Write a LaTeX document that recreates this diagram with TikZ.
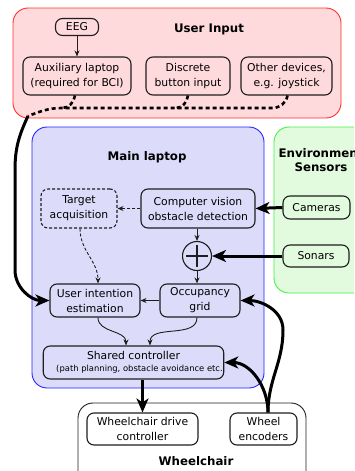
\documentclass[tikz,border=0pt]{standalone}
\usepackage{fontspec}
\setmainfont{DejaVu Sans}
\usetikzlibrary{arrows.meta}
\definecolor{redfill}{RGB}{255,218,221}
\definecolor{redline}{RGB}{255,45,45}
\definecolor{bluefill}{RGB}{220,220,250}
\definecolor{blueline}{RGB}{35,35,255}
\definecolor{greenfill}{RGB}{226,250,221}
\definecolor{greenline}{RGB}{70,240,70}
\definecolor{ink}{RGB}{30,30,30}
\tikzset{
  box/.style={draw=ink, line width=1.1pt, rounded corners=7pt, align=center, inner sep=1pt,
              font=\fontsize{10.8}{15}\selectfont},
  dbox/.style={box, dashed, dash pattern=on 3pt off 2pt},
  group/.style={line width=0.9pt, rounded corners=15pt},
  title/.style={font=\fontsize{11.8}{14.5}\selectfont\bfseries, align=center},
  thin/.style={line width=0.9pt, -{Stealth[length=6pt,width=5pt]}},
  fat/.style={line width=3pt, -{Stealth[length=14pt,width=12pt,inset=4pt]}},
  dotline/.style={line width=2.6pt, dash pattern=on 4pt off 3pt},
}
\begin{document}
\begin{tikzpicture}[x=1pt,y=-1pt]
\useasboundingbox (0,0) rectangle (354,471);
\begin{scope}
\clip (0,0) rectangle (354,471);
% groups
\draw[group, fill=redfill, draw=redline] (13,8) rectangle (341,118);
\draw[group, fill=bluefill, draw=blueline] (32,127) rectangle (264,388);
\draw[group, fill=greenfill, draw=greenline] (274,127) rectangle (375,293);
\draw[group, fill=white, draw=ink] (78,403) rectangle (306,495);
\node[title] (tenv) at (321,160) {Environment\\Sensors};
\end{scope}
% titles
\node[title] (tuser) at (209,29) {User Input};
\node[title] (tmain) at (147,157) {Main laptop};
\node[title] (twc) at (196,461) {Wheelchair};
% nodes
\node[box, minimum width=43pt, minimum height=17pt] (eeg) at (77,27) {EEG};
\node[box, minimum width=108pt, minimum height=38pt] (aux) at (77,76) {Auxiliary laptop\\(required for BCI)};
\node[box, minimum width=84pt, minimum height=38pt] (disc) at (188,76) {Discrete\\button input};
\node[box, minimum width=91pt, minimum height=38pt] (other) at (286.5,76) {Other devices,\\e.g. joystick};
\node[dbox, minimum width=76pt, minimum height=39pt] (target) at (79,208.5) {Target\\acquisition};
\node[box, minimum width=114pt, minimum height=39pt] (cv) at (198,208.5) {Computer vision\\obstacle detection};
\node[box, minimum width=67pt, minimum height=23pt] (cam) at (316.5,207.5) {Cameras};
\node[box, minimum width=66pt, minimum height=22pt] (sonar) at (316,256) {Sonars};
\node[draw=ink, line width=1.1pt, circle, minimum size=29pt, inner sep=0pt] (plus) at (197,256) {};
\draw[ink, line width=1.2pt] ([yshift=-4.5pt]plus.north) -- ([yshift=4.5pt]plus.south);
\draw[ink, line width=1.2pt] ([xshift=4.5pt]plus.west) -- ([xshift=-4.5pt]plus.east);
\node[box, minimum width=90pt, minimum height=33pt] (uie) at (95,300.5) {User intention\\estimation};
\node[box, minimum width=80pt, minimum height=33pt] (occ) at (200,300.5) {Occupancy\\grid};
\node[box, minimum width=177pt, minimum height=33pt] (shared) at (133.5,362.5)
  {Shared controller\\[-3pt]{\fontsize{8.4}{9}\selectfont\hspace*{12pt}(path planning, obstacle avoidance etc.}};
\node[box, minimum width=111pt, minimum height=32pt] (drive) at (142.5,429) {Wheelchair drive\\controller};
\node[box, minimum width=67pt, minimum height=32pt] (enc) at (263.5,429) {Wheel\\encoders};
% connectors
\draw[thin, ink] (eeg) -- (aux);
\draw[thin, ink, dashed, dash pattern=on 3pt off 2pt] (cv.west) -- (target.east);
\draw[thin, ink] (cv.south -| plus) -- (plus.north);
\draw[thin, ink] (plus.south) -- (plus.south |- occ.north);
\draw[thin, ink] (occ.west) -- (uie.east);
\draw[thin, ink, dashed, dash pattern=on 3pt off 2pt] ([xshift=1pt]target.south) to[out=-90,in=90] ([xshift=3pt]uie.north);
\draw[thin, ink] ([xshift=3pt]uie.south) to[out=-90,in=90] ([xshift=-7.5pt]shared.north);
\draw[thin, ink] ([xshift=-3pt]occ.south) to[out=-90,in=90] ([xshift=16.5pt]shared.north);
\draw[fat] (cam.west) -- (cv.east);
\draw[fat] (sonar.west) -- (plus.east);
\draw[fat] (drive.north |- shared.south) -- (drive.north);
\coordinate (encs) at ([xshift=4.5pt]enc.north);
\draw[fat] (encs) to[out=90,in=-90] (283,330) to[out=90,in=0] (occ.east);
\draw[fat] (encs) to[out=90,in=0] (shared.east);
% dotted input bus
\coordinate (j) at (28,116);
\draw[dotline] ([xshift=1pt]other.south) to[out=-100,in=0] (272,108) -- (62,108) to[out=180,in=20] (j);
\draw[dotline] (disc.south) to[out=-100,in=0] (176,108);
\draw[dotline] ([xshift=-2pt]aux.south) to[out=-100,in=0] (62,108);
\draw[fat] (j) to[out=-115,in=90] (15,170) -- (15,270) to[out=-90,in=180] (uie.west);
\end{tikzpicture}
\end{document}
